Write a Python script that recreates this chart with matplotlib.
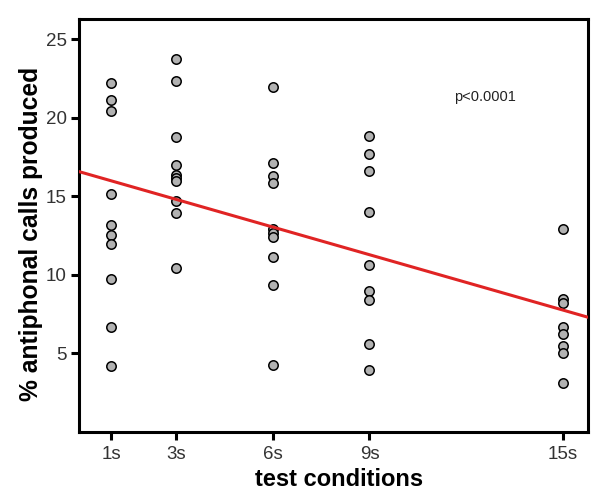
import numpy as np
import matplotlib
matplotlib.use("Agg")
import matplotlib.pyplot as plt

plt.rcParams['font.family'] = ['Liberation Sans', 'DejaVu Sans']

# interval (s) and % antiphonal calls per subject
cond_1s = [22.2, 21.15, 20.45, 15.15, 13.15, 12.55, 12.0, 9.75, 6.7, 4.2]
cond_3s = [23.75, 22.35, 18.8, 17.0, 16.35, 16.15, 16.0, 14.7, 13.95, 10.45]
cond_6s = [21.95, 17.15, 16.3, 15.85, 12.95, 12.65, 12.4, 11.15, 9.35, 4.25]
cond_9s = [18.85, 17.7, 16.65, 14.0, 10.65, 8.95, 8.4, 5.6, 3.95]
cond_15s = [12.9, 8.45, 8.2, 6.7, 6.25, 5.45, 5.05, 3.15]

intervals = [1, 3, 6, 9, 15]
tick_labels = ['1s', '3s', '6s', '9s', '15s']
groups = [cond_1s, cond_3s, cond_6s, cond_9s, cond_15s]

# regression line shown in the figure
fit_intercept = 16.58
fit_slope = -0.588

fig = plt.figure(figsize=(6, 5.01), dpi=100)
ax = fig.add_axes([0.1317, 0.1377, 0.8483, 0.8245])

for x, vals in zip(intervals, groups):
    ax.scatter([x] * len(vals), vals, s=46, facecolor='#b2b2b2',
               edgecolor='black', linewidth=1.1, zorder=2)

xl = np.array([0, 15.77])
ax.plot(xl, fit_intercept + fit_slope * xl, color='#e02424', lw=2.2, zorder=3)

ax.text(11.63, 21.36, 'p<0.0001', fontsize=10.5, va='center', ha='left', color='#222222')

ax.set_xlim(0, 15.77)
ax.set_ylim(0, 26.3)
ax.set_xticks(intervals)
ax.set_xticklabels(tick_labels)
ax.set_yticks([5, 10, 15, 20, 25])
ax.tick_params(axis='both', direction='out', length=6, width=2.2,
               labelsize=13.5, colors='black', labelcolor='#333333', pad=3)
ax.tick_params(axis='x', pad=4)
for sp in ax.spines.values():
    sp.set_linewidth(2.2)

ax.set_xlabel('test conditions', fontsize=17, fontweight='bold')
ax.set_ylabel('% antiphonal calls produced', fontsize=17.7, fontweight='bold')
ax.xaxis.set_label_coords(0.51, -0.088)
ax.yaxis.set_label_coords(-0.07, 0.479)

fig.savefig('out.png', dpi=100)
